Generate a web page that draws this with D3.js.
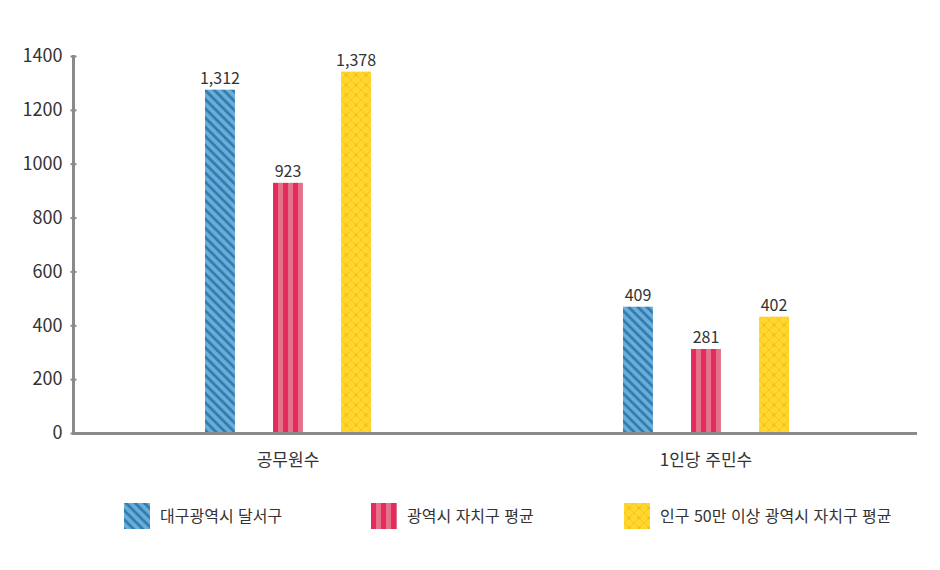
<!DOCTYPE html>
<html lang="ko">
<head>
<meta charset="utf-8">
<title>공무원수 / 1인당 주민수</title>
<script src="https://cdn.jsdelivr.net/npm/d3@7/dist/d3.min.js"></script>
<style>
  body { margin: 0; background: #fff; }
  svg text { font-family: "Noto Sans CJK KR", "Noto Sans", sans-serif; fill: #333; }
</style>
</head>
<body>
<svg id="chart" width="940" height="570"></svg>
<script>
// -- data
var categories = ["공무원수", "1인당 주민수"];
var seriesNames = ["대구광역시 달서구", "광역시 자치구 평균", "인구 50만 이상 광역시 자치구 평균"];
// bar heights as drawn (the printed labels do not match the bar heights exactly)
var dalseo   = [1275, 469];
var metroAvg = [929, 312];
var bigAvg   = [1342, 432];
// printed data labels
var dalseoLabels   = ["1,312", "409"];
var metroAvgLabels = ["923", "281"];
var bigAvgLabels   = ["1,378", "402"];
var yTicks = [0, 200, 400, 600, 800, 1000, 1200, 1400];

var series = [
    { name: seriesNames[0], values: dalseo,   labels: dalseoLabels,   fill: "url(#pat-blue)" },
    { name: seriesNames[1], values: metroAvg, labels: metroAvgLabels, fill: "url(#pat-red)" },
    { name: seriesNames[2], values: bigAvg,   labels: bigAvgLabels,   fill: "url(#pat-yellow)" }
];

var svg = d3.select("#chart");

// -- patterns
var defs = svg.append("defs");

var pBlue = defs.append("pattern")
    .attr("id", "pat-blue")
    .attr("patternUnits", "userSpaceOnUse")
    .attr("width", 6.5).attr("height", 6.5)
    .attr("patternTransform", "rotate(-45)");
pBlue.append("rect").attr("width", 6.5).attr("height", 6.5).attr("fill", "#6aadd5");
pBlue.append("rect").attr("width", 2.8).attr("height", 6.5).attr("fill", "#337db6");

var pRed = defs.append("pattern")
    .attr("id", "pat-red")
    .attr("patternUnits", "userSpaceOnUse")
    .attr("width", 10).attr("height", 10);
pRed.append("rect").attr("width", 10).attr("height", 10).attr("fill", "#e3728a");
pRed.append("rect").attr("width", 5).attr("height", 10).attr("fill", "#e52a5d");

var pYel = defs.append("pattern")
    .attr("id", "pat-yellow")
    .attr("patternUnits", "userSpaceOnUse")
    .attr("width", 10).attr("height", 10);
pYel.append("rect").attr("width", 10).attr("height", 10).attr("fill", "#ffd72e");
pYel.append("path")
    .attr("d", "M0,0L10,10M10,0L0,10")
    .attr("stroke", "#fac51c").attr("stroke-width", 1).attr("fill", "none");
pYel.append("rect").attr("x", 3.5).attr("y", 3.5).attr("width", 3).attr("height", 3)
    .attr("fill", "#f7bb14").attr("opacity", 0.7);

// -- scales
var y = d3.scaleLinear().domain([0, 1400]).range([433, 56]);
var x0 = d3.scaleBand().domain(categories).range([79, 915]);
var x1 = d3.scaleBand().domain(seriesNames).range([0, 166]).paddingInner(0.56).paddingOuter(0);

// -- y axis (ticks + labels)
var yAxis = d3.axisLeft(y).tickValues(yTicks).tickFormat(d3.format("d")).tickSize(0).tickPadding(11);
var gy = svg.append("g").attr("transform", "translate(73.5,0)").call(yAxis);
gy.select(".domain").remove();
gy.selectAll("text").style("font-size", "18px").style("fill", "#333")
    .style("font-family", "'Noto Sans CJK KR', 'Noto Sans', sans-serif");
gy.selectAll(".tick").append("line")
    .attr("x1", -3).attr("x2", 3)
    .attr("stroke", "#8a8a8a").attr("stroke-width", 2);

svg.append("line")
    .attr("x1", 73.5).attr("x2", 73.5).attr("y1", 55).attr("y2", 434.5)
    .attr("stroke", "#8a8a8a").attr("stroke-width", 3);
svg.append("line")
    .attr("x1", 72).attr("x2", 917).attr("y1", 433.5).attr("y2", 433.5)
    .attr("stroke", "#8a8a8a").attr("stroke-width", 3);

// -- bars
categories.forEach(function(cat, ci) {
    var gx = x0(cat) + (x0.bandwidth() - 166) / 2;
    series.forEach(function(s) {
        var bx = gx + x1(s.name);
        var g = svg.append("g").attr("transform", "translate(" + bx + ",0)");
        g.append("rect")
            .attr("x", 0)
            .attr("y", y(s.values[ci]))
            .attr("width", x1.bandwidth())
            .attr("height", y(0) - y(s.values[ci]) - 1)
            .attr("fill", s.fill);
        g.append("text")
            .attr("x", x1.bandwidth() / 2)
            .attr("y", y(s.values[ci]) - 6)
            .attr("text-anchor", "middle")
            .style("font-size", "16px")
            .text(s.labels[ci]);
    });
});

// -- category labels
svg.selectAll("text.cat")
    .data(categories)
    .enter().append("text")
    .attr("class", "cat")
    .attr("x", function(d) { return x0(d) + x0.bandwidth() / 2; })
    .attr("y", 466)
    .attr("text-anchor", "middle")
    .style("font-size", "17px")
    .text(function(d) { return d; });

// -- legend
var legendX = [124, 371, 624];
series.forEach(function(s, i) {
    var lg = svg.append("g").attr("transform", "translate(" + legendX[i] + ",503)");
    lg.append("rect").attr("width", 26).attr("height", 26).attr("fill", s.fill);
    lg.append("text")
        .attr("x", 36).attr("y", 19)
        .style("font-size", "16px")
        .text(s.name);
});
</script>
</body>
</html>
